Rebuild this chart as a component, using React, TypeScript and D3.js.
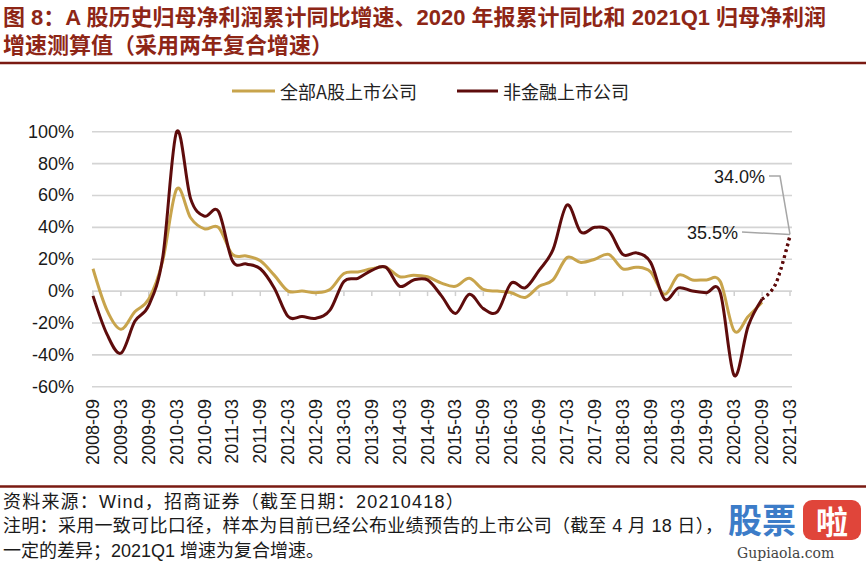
import React from 'react';
import * as d3 from 'd3';

const quarters = [
  '2008-09','2008-12','2009-03','2009-06','2009-09','2009-12','2010-03','2010-06','2010-09','2010-12',
  '2011-03','2011-06','2011-09','2011-12','2012-03','2012-06','2012-09','2012-12','2013-03','2013-06',
  '2013-09','2013-12','2014-03','2014-06','2014-09','2014-12','2015-03','2015-06','2015-09','2015-12',
  '2016-03','2016-06','2016-09','2016-12','2017-03','2017-06','2017-09','2017-12','2018-03','2018-06',
  '2018-09','2018-12','2019-03','2019-06','2019-09','2019-12','2020-03','2020-06','2020-09','2020-12',
  '2021-03',
];

const tickLabels = [
  '2008-09','2009-03','2009-09','2010-03','2010-09','2011-03','2011-09','2012-03','2012-09','2013-03',
  '2013-09','2014-03','2014-09','2015-03','2015-09','2016-03','2016-09','2017-03','2017-09','2018-03',
  '2018-09','2019-03','2019-09','2020-03','2020-09','2021-03',
];

// 全部A股上市公司 (2008-09 .. 2020-09)
const allA = [
  14, -12, -24, -13, -5, 19, 64, 46, 39, 40,
  23, 22, 19, 10, 0, 0, -1, 1, 11, 12,
  14, 15, 9, 10, 9, 5, 3, 8, 1, 0,
  -1, -4, 3, 7, 21, 18, 20, 23, 14, 15,
  12, -2, 10, 7, 7, 6, -25, -16, -7,
];

// 非金融上市公司 (2008-09 .. 2020-09)
const nonFin = [
  -3, -27, -39, -19, -9, 21, 100, 58, 47, 50,
  19, 17, 14, 2, -16, -16, -17, -12, 6, 8,
  13, 15, 3, 7, 7, -3, -14, -2, -11, -13,
  5, 2, 13, 26, 54, 37, 40, 38, 23, 24,
  18, -5, 2, 0, -1, -1, -53, -22, -5,
];

// 测算值 (2020-09, 2020-12, 2021-03)
const estQuarters = ['2020-09', '2020-12', '2021-03'];
const allAEst = [-5, 5, 34.0];
const nonFinEst = [-5, 5, 35.5];

const yTicks = [-60, -40, -20, 0, 20, 40, 60, 80, 100];

const seriesNames = ['全部A股上市公司', '非金融上市公司'];
const GOLD = '#C8A44C';
const DARK = '#5E0C0C';
const TITLE = '#8E2616';
const LATIN = "'Liberation Sans', Arial, 'Noto Sans CJK SC', sans-serif";
const CJK = "'Noto Sans CJK SC', 'Liberation Sans', sans-serif";

export default function App() {
  const x = d3.scalePoint<string>().domain(quarters).range([93, 790]);
  const y = d3.scaleLinear().domain([-60, 100]).range([386.7, 131.7]);

  const line = d3
    .line<number>()
    .x((_, i) => x(quarters[i]) as number)
    .y((d) => y(d))
    .curve(d3.curveCardinal.tension(0));

  const estLine = d3
    .line<number>()
    .x((_, i) => x(estQuarters[i]) as number)
    .y((d) => y(d))
    .curve(d3.curveCardinal.tension(0));

  const endX = x('2021-03') as number;
  const endY = y(nonFinEst[2]);

  return (
    <svg
      width={866}
      height={562}
      style={{ position: 'absolute', left: 0, top: 0, background: '#fff' }}
    >
      <rect x={0} y={0} width={866} height={562} fill="#fff" />
      {/* Title */}
      <g fontFamily={LATIN} fontWeight="bold" fill={TITLE} fontSize={22}>
        <text x={3} y={25}>
          图 8：A 股历史归母净利润累计同比增速、2020 年报累计同比和 2021Q1 归母净利润
        </text>
        <text x={3} y={53}>增速测算值（采用两年复合增速）</text>
      </g>
      <line x1={0} x2={866} y1={63} y2={63} stroke="#7A1A12" strokeWidth={2.5} />

      {/* Legend */}
      <g fontFamily={CJK} fontSize={18} fill="#222">
        <line x1={232} x2={275} y1={91} y2={91} stroke={GOLD} strokeWidth={3} />
        <text x={280} y={91} dominantBaseline="central">{seriesNames[0]}</text>
        <line x1={457} x2={498} y1={91} y2={91} stroke={DARK} strokeWidth={3} />
        <text x={503} y={91} dominantBaseline="central">{seriesNames[1]}</text>
      </g>

      {/* Gridlines */}
      {yTicks.map((t) => (
        <g key={t}>
          <line x1={92} x2={792} y1={y(t)} y2={y(t)} stroke="#D4D4D4" strokeWidth={1.6} />
          <text
            x={74}
            y={y(t)}
            textAnchor="end"
            dominantBaseline="central"
            fontFamily={LATIN}
            fontSize={18}
            fill="#1a1a1a"
          >
            {t}%
          </text>
        </g>
      ))}

      {/* Ticks and x labels */}
      {tickLabels.map((l) => (
        <g key={l}>
          <line
            x1={x(l) as number}
            x2={x(l) as number}
            y1={y(0)}
            y2={y(0) + 5}
            stroke="#D0D0D0"
            strokeWidth={1.5}
          />
          <text
            transform={`translate(${x(l)},399) rotate(-90)`}
            textAnchor="end"
            dominantBaseline="central"
            fontFamily={LATIN}
            fontSize={18}
            fill="#1a1a1a"
          >
            {l}
          </text>
        </g>
      ))}

      {/* Series */}
      <path d={line(allA) || ''} fill="none" stroke={GOLD} strokeWidth={3} strokeLinejoin="round" />
      <path d={line(nonFin) || ''} fill="none" stroke={DARK} strokeWidth={3} strokeLinejoin="round" />
      <path
        d={estLine(allAEst) || ''}
        fill="none"
        stroke={DARK}
        strokeWidth={3}
        strokeDasharray="2.5 3.5"
      />
      <path
        d={estLine(nonFinEst) || ''}
        fill="none"
        stroke={DARK}
        strokeWidth={3}
        strokeDasharray="2.5 3.5"
      />

      {/* Annotations */}
      <polyline
        points={`769,176 780,176 ${endX},${endY}`}
        fill="none"
        stroke="#A6A6A6"
        strokeWidth={1.5}
      />
      <line x1={742} y1={232} x2={endX} y2={endY} stroke="#A6A6A6" strokeWidth={1.5} />
      <g fontFamily={LATIN} fontSize={18} fill="#1a1a1a">
        <text x={765} y={177} textAnchor="end" dominantBaseline="central">
          {allAEst[2].toFixed(1)}%
        </text>
        <text x={738} y={233} textAnchor="end" dominantBaseline="central">
          {nonFinEst[2].toFixed(1)}%
        </text>
      </g>

      {/* Footer */}
      <line x1={0} x2={866} y1={486.5} y2={486.5} stroke="#7A1A12" strokeWidth={2.5} />
      <g fontFamily={LATIN} fontSize={18} fill="#1a1a1a">
        <text x={3} y={508} letterSpacing={1.2}>资料来源：Wind，招商证券（截至日期：20210418）</text>
        <text x={3} y={532} letterSpacing={0.3}>
          注明：采用一致可比口径，样本为目前已经公布业绩预告的上市公司（截至 4 月 18 日），
        </text>
        <text x={3} y={557}>一定的差异；2021Q1 增速为复合增速。</text>
      </g>

      {/* Watermark */}
      <g>
        <text x={728} y={533} fontFamily={CJK} fontWeight="bold" fontSize={34} fill="#3C7CC8">
          股票
        </text>
        <rect x={803} y={500} width={58} height={40} rx={9} fill="#E0453A" />
        <text
          x={832}
          y={520}
          textAnchor="middle"
          dominantBaseline="central"
          fontFamily={CJK}
          fontWeight="bold"
          fontSize={32}
          fill="#fff"
        >
          啦
        </text>
        <text x={737} y={558} fontFamily="'DejaVu Serif', serif" fontSize={14} fill="#444">
          Gupiaola.com
        </text>
      </g>
    </svg>
  );
}
